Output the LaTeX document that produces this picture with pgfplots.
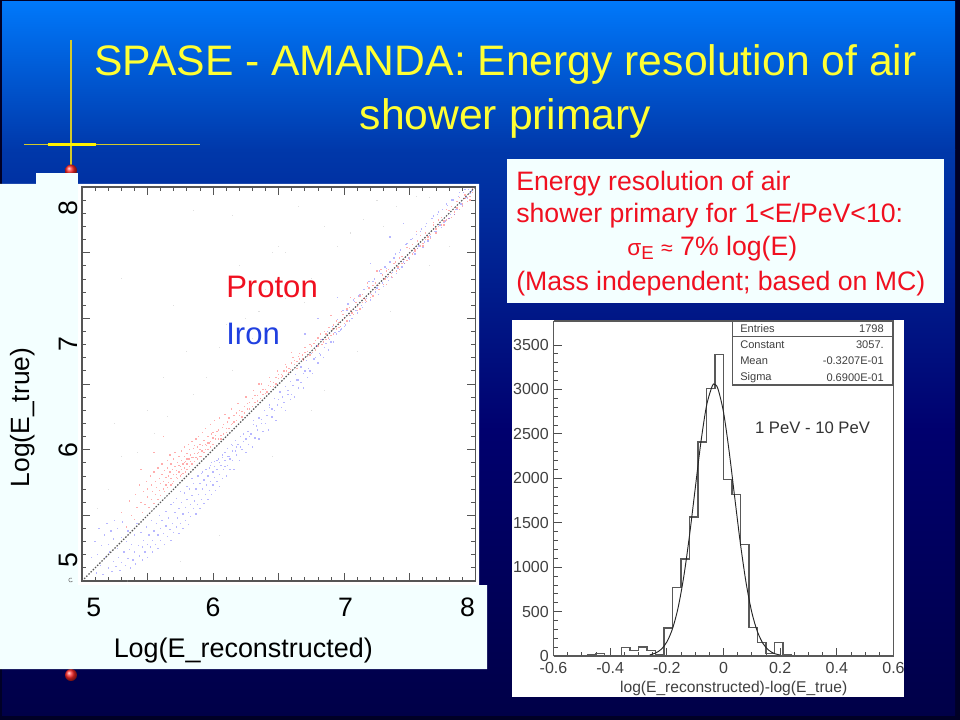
\documentclass[border=0pt]{standalone}
\usepackage{pgfplots}
\pgfplotsset{compat=1.18}
\usepackage{fontspec}
\setmainfont{Liberation Sans}
\definecolor{panel}{HTML}{F3FFFF}
\definecolor{titley}{HTML}{FFFF33}
\definecolor{redtxt}{HTML}{F01020}
\definecolor{bluetxt}{HTML}{2040E0}
\definecolor{axgray}{HTML}{555555}

% histogram, one value per 0.03 bin
\pgfplotstableread{
x y
-0.48 0
-0.48 10
-0.45 10
-0.45 25
-0.42 25
-0.42 0
-0.36 0
-0.36 95
-0.33 95
-0.33 60
-0.30 60
-0.30 100
-0.27 100
-0.27 65
-0.24 65
-0.24 10
-0.21 10
-0.21 315
-0.18 315
-0.18 770
-0.15 770
-0.15 1090
-0.12 1090
-0.12 1565
-0.09 1565
-0.09 2410
-0.06 2410
-0.06 3010
-0.03 3010
-0.03 3390
0.00 3390
0.00 1990
0.03 1990
0.03 1820
0.06 1820
0.06 1255
0.09 1255
0.09 320
0.12 320
0.12 155
0.15 155
0.15 25
0.18 25
0.18 155
0.21 155
0.21 20
0.24 20
0.24 8
0.27 8
0.27 0
}\histdata

% gaussian fit
\pgfplotstableread{
x y
-0.26 13
-0.24 33
-0.22 75
-0.20 158
-0.18 307
-0.16 547
-0.14 898
-0.12 1356
-0.10 1880
-0.08 2400
-0.06 2815
-0.04 3037
-0.032 3057
-0.02 3011
0.00 2745
0.02 2301
0.04 1774
0.06 1257
0.08 819
0.10 490
0.12 272
0.14 138
0.16 64
0.18 27
0.20 11
}\fitdata

\begin{document}
\begin{tikzpicture}[x=0.75pt,y=-0.75pt]
\useasboundingbox (0,0) rectangle (960,720);

% slide background
\fill[black!85!blue] (0,0) rectangle (960,720);
\path[top color={rgb,255:red,0;green,120;blue,250}, bottom color={rgb,255:red,0;green,56;blue,170}]
  (2,2) rectangle (955,150);
\path[top color={rgb,255:red,0;green,56;blue,170}, bottom color={rgb,255:red,0;green,0;blue,110}]
  (2,149.5) rectangle (955,430);
\path[top color={rgb,255:red,0;green,0;blue,110}, bottom color={rgb,255:red,0;green,0;blue,72}]
  (2,429.5) rectangle (955,715);

% title
\node[text=titley, font=\fontsize{32}{34}\selectfont, anchor=center] at (505.5,64) {SPASE - AMANDA: Energy resolution of air};
\node[text=titley, font=\fontsize{32}{34}\selectfont, anchor=center] at (505.5,118) {shower primary};

% yellow cross and red dots
\draw[yellow!80!black, line width=0.8pt] (71,40) -- (71,165);
\draw[yellow!80!black, line width=0.6pt] (24,144.5) -- (200,144.5);
\draw[yellow, line width=2.2pt] (48,144.5) -- (96,144.5);
\shade[ball color=red!85!white] (71,170.5) circle (6);
\shade[ball color=red!85!white] (71,675) circle (6);

% panels behind the plots
\fill[panel] (36,173) rectangle (78,185);
\fill[panel] (0,184) -- (479,184) -- (479,585) -- (487,585) -- (487,669) -- (0,669) -- cycle;
\fill[white] (78,184) rectangle (479,585);
\fill[panel] (507,159) rectangle (944,303);
\fill[white] (512,320) rectangle (904,697);
\draw[black!60, line width=0.4pt] (72.5,581) arc (30:300:2);

\coordinate (scatterorigin) at (82,581);
\coordinate (historigin) at (553.5,656);

% scatter plot
\begin{axis}[
    at={(scatterorigin)}, anchor=south west,
    scale only axis, width=295pt, height=295.5pt,
    xmin=5, xmax=8, ymin=5, ymax=8,
    xtick={5.09,6,7.01,7.94}, xticklabels={5,6,7,8},
    ytick={5.12,5.96,6.76,7.8}, yticklabels={5,6,7,8},
    major tick length=0pt,
    extra x ticks={5,5.5,6,6.5,7,7.5,8},
    extra y ticks={5,5.5,6,6.5,7,7.5,8},
    extra x tick labels={}, extra y tick labels={},
    extra tick style={major tick length=6pt, tick style={axgray, line width=0.7pt}},
    minor xtick={5.1,5.2,5.3,5.4,5.6,5.7,5.8,5.9,6.1,6.2,6.3,6.4,6.6,6.7,6.8,6.9,7.1,7.2,7.3,7.4,7.6,7.7,7.8,7.9},
    minor ytick={5.1,5.2,5.3,5.4,5.6,5.7,5.8,5.9,6.1,6.2,6.3,6.4,6.6,6.7,6.8,6.9,7.1,7.2,7.3,7.4,7.6,7.7,7.8,7.9},
    minor tick length=3pt,
    minor tick style={axgray, line width=0.6pt},
    tick align=inside,
    axis line style={axgray, line width=1pt},
    tick label style={font=\fontsize{20}{21}\selectfont},
    /pgf/number format/assume math mode=true,
    xticklabel style={yshift=-9pt},
    yticklabel style={rotate=90, anchor=south, xshift=4pt},
    xlabel={Log(E\_reconstructed)},
    ylabel={Log(E\_true)},
    xlabel style={font=\fontsize{20.2}{21}\selectfont, at={(axis description cs:0.41,0)}, anchor=north, yshift=-39pt},
    ylabel style={font=\fontsize{19.8}{21}\selectfont, at={(axis description cs:0,0.415)}, anchor=south, yshift=32pt},
    clip=true,
]
\addplot[only marks, mark=square*, mark size=0.5pt, color=red!80!white, mark options={draw opacity=0, fill opacity=0.4}]
coordinates {
(5.30,5.52)(5.34,5.41)(5.36,5.61)(5.38,5.50)(5.40,5.47)(5.41,5.66)(5.42,5.56)(5.44,5.73)(5.45,5.60)(5.46,5.52)
(5.47,5.68)(5.48,5.58)(5.49,5.76)(5.50,5.64)(5.50,5.70)(5.51,5.56)(5.52,5.80)(5.53,5.62)(5.53,5.73)(5.54,5.68)
(5.55,5.59)(5.55,5.83)(5.56,5.66)(5.56,5.76)(5.57,5.71)(5.58,5.62)(5.58,5.86)(5.59,5.69)(5.59,5.78)(5.60,5.74)
(5.60,5.65)(5.61,5.89)(5.61,5.81)(5.62,5.70)(5.62,5.76)(5.63,5.84)(5.63,5.68)(5.64,5.79)(5.64,5.73)(5.65,5.92)
(5.65,5.86)(5.65,5.71)(5.66,5.80)(5.66,5.75)(5.67,5.96)(5.67,5.83)(5.68,5.73)(5.68,5.89)(5.68,5.78)(5.69,5.85)
(5.69,5.74)(5.70,5.93)(5.70,5.81)(5.70,5.76)(5.71,5.87)(5.71,5.98)(5.72,5.79)(5.72,5.84)(5.73,5.90)(5.73,5.78)
(5.74,5.95)(5.74,5.83)(5.75,5.87)(5.75,5.80)(5.76,5.99)(5.76,5.92)(5.76,5.85)(5.77,5.82)(5.77,5.89)(5.78,6.02)
(5.78,5.95)(5.78,5.86)(5.79,5.91)(5.79,5.83)(5.80,5.97)(5.80,5.89)(5.80,5.85)(5.81,6.04)(5.81,5.93)(5.82,5.87)
(5.82,6.00)(5.83,5.91)(5.83,5.96)(5.84,5.89)(5.84,6.06)(5.85,5.94)(5.85,6.01)(5.86,5.91)(5.86,5.97)(5.87,6.08)
(5.87,5.94)(5.88,6.02)(5.88,5.93)(5.89,5.98)(5.89,6.10)(5.90,5.95)(5.90,6.04)(5.91,5.99)(5.91,5.95)(5.92,6.13)
(5.92,6.03)(5.93,5.98)(5.93,6.07)(5.94,6.00)(5.94,6.16)(5.95,6.03)(5.96,6.10)(5.96,6.00)(5.97,6.05)(5.98,6.19)
(5.98,6.06)(5.99,6.12)(6.00,6.04)(6.00,6.09)(6.01,6.22)(6.02,6.08)(6.03,6.14)(6.04,6.08)(6.05,6.24)(6.06,6.11)
(6.07,6.17)(6.08,6.12)(6.09,6.27)(6.10,6.16)(6.11,6.21)(6.12,6.16)(6.14,6.31)(6.15,6.20)(6.16,6.26)(6.18,6.22)
(6.19,6.35)(6.20,6.26)(6.22,6.29)(6.24,6.28)(6.25,6.40)(6.26,6.31)(6.28,6.36)(6.30,6.33)(6.31,6.45)(6.32,6.36)
(6.34,6.41)(6.36,6.39)(6.37,6.50)(6.38,6.42)(6.40,6.46)(6.41,6.44)(6.43,6.55)(6.44,6.48)(6.46,6.51)(6.48,6.50)
(6.49,6.60)(6.50,6.54)(6.52,6.57)(6.53,6.56)(6.55,6.65)(6.56,6.60)(6.58,6.62)(6.59,6.61)(6.61,6.70)(6.62,6.65)
(6.64,6.62)(6.65,6.71)(6.66,6.69)(6.68,6.72)(6.69,6.68)(6.70,6.78)(6.72,6.75)(6.74,6.72)(6.75,6.79)(6.77,6.81)
(6.78,6.76)(6.80,6.85)(6.82,6.84)(6.83,6.80)(6.85,6.90)(6.86,6.88)(6.88,6.85)(6.89,6.93)(6.91,6.92)(6.92,6.88)
(6.94,6.98)(6.96,6.97)(6.97,6.94)(6.99,7.03)(7.00,7.00)(7.02,6.98)(7.04,7.08)(7.05,7.06)(7.07,7.03)(7.09,7.12)
(7.10,7.09)(7.12,7.07)(7.14,7.18)(7.15,7.15)(7.17,7.13)(7.19,7.23)(7.20,7.19)(7.22,7.17)(7.24,7.27)(7.26,7.25)
(7.27,7.22)(7.29,7.33)(7.31,7.30)(7.32,7.26)(7.34,7.37)(7.36,7.34)(7.37,7.31)(7.39,7.43)(7.41,7.39)(7.42,7.37)
(7.44,7.47)(7.46,7.45)(7.48,7.44)(7.50,7.53)(7.52,7.49)(7.54,7.52)(7.56,7.59)(7.58,7.55)(7.60,7.57)(7.62,7.65)
(7.64,7.60)(7.66,7.64)(7.68,7.71)(7.70,7.65)(7.72,7.70)(7.74,7.77)(7.76,7.71)(7.78,7.75)(7.80,7.82)(7.82,7.77)
(7.84,7.81)(7.86,7.89)(7.88,7.83)(7.90,7.87)(7.92,7.94)(7.94,7.89)(7.96,7.93)(7.98,7.96)
(6.60,6.74)(6.90,7.02)(7.25,7.36)(7.55,7.66)(7.05,7.16)(6.35,6.50)(5.55,5.98)(5.62,6.10)(5.45,5.85)
(5.72,5.81)(5.74,5.88)(5.76,5.81)(5.78,5.90)(5.80,5.93)(5.82,5.93)(5.84,5.94)(5.86,6.03)(5.88,5.97)(5.90,6.00)
(5.92,5.99)(5.94,6.04)(5.96,6.05)(5.98,6.02)(6.00,6.13)(6.02,6.11)(6.04,6.15)(6.06,6.08)(6.08,6.19)(6.10,6.13)
(6.12,6.24)(6.14,6.19)(6.16,6.21)(6.18,6.28)(6.20,6.30)(6.22,6.25)(6.24,6.33)(6.26,6.35)(6.28,6.31)(6.30,6.39)
(6.32,6.41)(6.34,6.37)(6.36,6.44)(6.38,6.46)(6.40,6.43)(6.42,6.49)(6.44,6.52)(6.46,6.48)(6.48,6.55)(6.50,6.57)
(6.52,6.55)(6.54,6.60)(6.56,6.63)(6.58,6.59)(6.60,6.66)(6.62,6.68)(6.64,6.67)(6.66,6.73)(6.68,6.69)(6.70,6.74)
(6.72,6.71)(6.74,6.80)(6.76,6.74)(6.78,6.83)(6.80,6.79)(6.82,6.88)(6.84,6.82)(6.86,6.84)(6.88,6.93)(6.90,6.87)
(6.92,6.95)(6.94,6.92)(6.96,6.93)(6.98,7.05)(7.00,6.96)(7.02,7.07)(7.04,7.02)(7.06,7.04)(7.08,7.15)(7.10,7.06)
(7.12,7.17)(7.14,7.12)(7.16,7.14)(7.18,7.27)(7.20,7.16)(7.22,7.25)(7.24,7.22)(7.26,7.22)(7.28,7.37)(7.30,7.26)
(7.32,7.36)(7.34,7.32)(7.36,7.32)(7.38,7.42)(7.40,7.36)(7.42,7.46)(7.44,7.42)(7.46,7.42)(7.48,7.54)(7.50,7.46)
(7.52,7.56)(7.54,7.51)(7.56,7.53)(7.58,7.63)(7.60,7.55)(7.62,7.60)(7.64,7.62)(7.66,7.61)(7.68,7.73)(7.70,7.68)
(7.72,7.75)(7.74,7.71)(7.76,7.74)(7.78,7.83)(7.80,7.76)(7.82,7.85)(7.84,7.79)(7.86,7.84)(7.88,7.92)(7.90,7.85)
(7.92,7.91)(7.94,7.92)(7.96,7.90)(7.98,7.99)
};
\addplot[only marks, mark=square*, mark size=0.5pt, color=blue!80!white, mark options={draw opacity=0, fill opacity=0.35}]
coordinates {
(5.07,5.18)(5.10,5.30)(5.11,5.06)(5.12,5.20)(5.13,5.40)(5.14,5.12)(5.15,5.27)(5.16,5.05)(5.17,5.35)(5.18,5.18)
(5.19,5.44)(5.20,5.10)(5.20,5.28)(5.21,5.22)(5.22,5.38)(5.23,5.07)(5.24,5.15)(5.24,5.32)(5.25,5.46)(5.26,5.11)
(5.27,5.25)(5.27,5.40)(5.28,5.18)(5.29,5.08)(5.30,5.33)(5.30,5.14)(5.31,5.45)(5.32,5.22)(5.33,5.12)(5.34,5.30)
(5.35,5.17)(5.35,5.38)(5.36,5.24)(5.37,5.10)(5.38,5.28)(5.39,5.16)(5.40,5.35)(5.40,5.22)(5.41,5.13)(5.42,5.44)
(5.43,5.27)(5.44,5.19)(5.45,5.37)(5.46,5.26)(5.46,5.16)(5.47,5.31)(5.48,5.22)(5.49,5.41)(5.50,5.28)(5.50,5.18)
(5.51,5.35)(5.52,5.26)(5.53,5.46)(5.54,5.31)(5.54,5.22)(5.55,5.38)(5.56,5.28)(5.57,5.44)(5.58,5.35)(5.58,5.25)
(5.59,5.50)(5.60,5.40)(5.60,5.31)(5.61,5.46)(5.62,5.36)(5.63,5.28)(5.64,5.53)(5.64,5.42)(5.65,5.34)(5.66,5.48)
(5.67,5.39)(5.68,5.31)(5.68,5.58)(5.69,5.44)(5.70,5.37)(5.71,5.52)(5.72,5.41)(5.72,5.63)(5.73,5.48)(5.74,5.36)
(5.74,5.55)(5.75,5.44)(5.76,5.60)(5.77,5.51)(5.77,5.40)(5.78,5.67)(5.79,5.56)(5.79,5.46)(5.80,5.62)(5.81,5.52)
(5.81,5.43)(5.82,5.70)(5.83,5.58)(5.83,5.49)(5.84,5.65)(5.85,5.55)(5.85,5.74)(5.86,5.61)(5.87,5.51)(5.87,5.70)
(5.88,5.58)(5.89,5.66)(5.89,5.80)(5.90,5.55)(5.90,5.74)(5.91,5.62)(5.92,5.70)(5.92,5.83)(5.93,5.59)(5.93,5.77)
(5.94,5.66)(5.95,5.73)(5.95,5.85)(5.96,5.62)(5.96,5.80)(5.97,5.69)(5.98,5.76)(5.98,5.88)(5.99,5.66)(6.00,5.83)
(6.00,5.73)(6.01,5.79)(6.01,5.91)(6.02,5.69)(6.03,5.85)(6.03,5.76)(6.04,5.93)(6.05,5.81)(6.05,5.72)(6.06,5.88)
(6.07,5.96)(6.07,5.78)(6.08,5.85)(6.09,5.98)(6.09,5.92)(6.10,5.80)(6.11,5.88)(6.11,6.01)(6.12,5.95)(6.13,5.85)
(6.14,6.04)(6.15,5.92)(6.15,5.99)(6.16,5.85)(6.17,6.07)(6.18,5.96)(6.18,6.02)(6.20,5.92)(6.21,6.10)(6.22,6.00)
(6.23,6.06)(6.25,5.98)(6.26,6.14)(6.27,6.04)(6.28,6.10)(6.30,6.02)(6.31,6.19)(6.32,6.09)(6.34,6.15)(6.35,6.08)
(6.37,6.23)(6.38,6.14)(6.40,6.20)(6.42,6.15)(6.43,6.32)(6.45,6.25)(6.47,6.30)(6.48,6.22)(6.50,6.38)(6.52,6.32)
(6.54,6.36)(6.55,6.30)(6.57,6.45)(6.59,6.38)(6.60,6.42)(6.62,6.40)(6.64,6.53)(6.65,6.47)(6.67,6.51)(6.69,6.47)
(6.70,6.60)(6.72,6.55)(6.74,6.60)(6.76,6.58)(6.78,6.70)(6.80,6.66)(6.82,6.72)(6.84,6.70)(6.86,6.81)(6.88,6.76)
(6.90,6.82)(6.92,6.82)(6.94,6.88)(6.96,6.90)(6.98,6.92)(7.00,6.94)(7.02,7.06)(7.04,6.98)(7.06,7.00)(7.08,7.13)
(7.10,7.04)(7.12,7.18)(7.14,7.08)(7.16,7.12)(7.18,7.24)(7.20,7.14)(7.22,7.28)(7.24,7.20)(7.26,7.18)(7.28,7.34)
(7.30,7.24)(7.32,7.38)(7.34,7.29)(7.36,7.31)(7.38,7.46)(7.40,7.34)(7.42,7.50)(7.44,7.39)(7.46,7.42)(7.48,7.57)
(7.50,7.45)(7.52,7.61)(7.54,7.49)(7.56,7.53)(7.58,7.66)(7.60,7.54)(7.62,7.70)(7.64,7.59)(7.66,7.62)(7.68,7.78)
(7.70,7.66)(7.72,7.81)(7.74,7.69)(7.76,7.73)(7.78,7.87)(7.80,7.76)(7.82,7.90)(7.84,7.79)(7.86,7.83)(7.88,7.96)
(7.90,7.86)(7.92,7.98)(7.94,7.91)(7.96,7.95)
(7.35,7.62)(7.45,7.72)(7.20,7.42)(6.95,7.16)(6.80,7.00)(6.70,6.88)
(5.70,5.60)(5.75,5.68)(5.80,5.72)(5.84,5.78)(5.88,5.80)(5.91,5.82)(5.94,5.85)(5.97,5.86)(5.99,5.90)(6.01,5.87)
(6.03,5.92)(6.05,5.90)(6.07,5.94)(6.09,5.87)(6.11,5.95)(6.13,5.93)(6.15,6.03)(6.17,5.99)(6.19,6.04)(6.21,6.02)
(6.23,6.12)(6.25,6.08)(6.27,6.14)(6.29,6.12)(6.31,6.22)(6.33,6.18)(6.35,6.24)(6.37,6.20)(6.39,6.30)(6.41,6.26)
(6.43,6.34)(6.45,6.31)(6.47,6.39)(6.49,6.34)(6.51,6.44)(6.53,6.40)(6.55,6.48)(6.57,6.42)(6.59,6.52)(6.61,6.49)
(6.63,6.57)(6.65,6.53)(6.67,6.63)(6.69,6.58)(6.71,6.68)(6.73,6.62)(6.75,6.73)(6.77,6.69)(6.79,6.79)(6.81,6.73)
(6.83,6.84)(6.85,6.78)(6.87,6.90)(6.89,6.84)(6.91,6.94)(6.93,6.89)(6.95,6.99)(6.97,6.91)(6.99,7.06)(7.01,6.95)
(7.03,7.11)(7.05,7.02)(7.07,7.14)(7.09,7.06)(7.11,7.17)(7.13,7.10)(7.15,7.22)(7.17,7.15)(7.19,7.28)(7.21,7.18)
(7.23,7.30)(7.25,7.23)(7.27,7.36)(7.29,7.27)(7.31,7.39)(7.33,7.31)(7.35,7.43)(7.37,7.35)(7.39,7.49)(7.41,7.38)
(7.43,7.52)(7.45,7.43)(7.47,7.56)(7.49,7.46)(7.51,7.60)(7.53,7.50)(7.55,7.64)(7.57,7.55)(7.59,7.68)(7.61,7.58)
(7.63,7.72)(7.65,7.63)(7.67,7.76)(7.69,7.66)(7.71,7.79)(7.73,7.71)(7.75,7.83)(7.77,7.74)(7.79,7.86)(7.81,7.79)
(7.83,7.90)(7.85,7.83)(7.87,7.93)(7.89,7.87)(7.91,7.96)(7.93,7.92)(7.95,7.98)(7.97,7.97)
};
\addplot[only marks, mark=square*, mark size=0.4pt, color=gray!70!white, mark options={draw opacity=0, fill opacity=0.35}]
coordinates {
(5.30,5.95)(5.42,5.98)(5.55,6.12)(5.65,6.25)(5.62,6.55)(5.85,6.42)(5.95,6.55)(6.05,6.78)(5.70,7.10)(5.30,7.30)
(6.10,6.95)(6.25,7.00)(6.35,7.05)(6.55,7.15)(6.20,7.40)(6.45,7.50)(6.50,7.55)(6.55,7.50)(6.75,7.30)(6.95,7.55)
(7.05,7.65)(7.15,7.75)(6.85,7.70)(7.25,7.90)(7.40,7.85)(7.55,7.93)(7.65,7.92)(6.65,7.85)(6.15,7.78)(5.85,7.82)
(6.05,5.35)(6.45,5.95)(6.75,6.30)(6.85,6.45)(7.10,6.75)(7.35,7.05)(7.65,7.40)(7.80,7.55)(5.35,5.00)(5.75,5.15)
(5.20,5.70)(5.12,5.55)(6.30,6.85)(6.15,6.60)(6.70,7.12)(7.30,7.70)(5.50,6.30)(5.25,6.20)(5.80,6.75)(6.40,7.22)
};
\addplot[black!65, line width=0.9pt, dash pattern=on 1.1pt off 1.2pt] coordinates {(5,5)(8,8)};
\end{axis}

\node[text=redtxt, font=\fontsize{23.3}{25}\selectfont, anchor=west, inner sep=0pt] at (226,287) {Proton};
\node[text=bluetxt, font=\fontsize{23.3}{25}\selectfont, anchor=west, inner sep=0pt] at (226,334) {Iron};

% text box
\begin{scope}[every node/.style={text=redtxt, font=\fontsize{20}{22}\selectfont, anchor=base west, inner sep=0pt}]
\node at (516,191) {Energy resolution of air};
\node at (516,223) {shower primary for 1<E/PeV<10:};
\node at (627,256) {{\fontsize{17}{18}\selectfont σ}\raisebox{-3pt}{\fontsize{14}{14}\selectfont E} {\fontsize{16}{18}\selectfont ≈} 7\% log(E)};
\node at (516,291) {(Mass independent; based on MC)};
\end{scope}

% histogram
\begin{axis}[
    at={(historigin)}, anchor=south west,
    scale only axis, width=255pt, height=251.25pt,
    xmin=-0.6, xmax=0.6, ymin=0, ymax=3770,
    xtick={-0.6,-0.4,-0.2,0,0.2,0.4,0.6},
    xticklabels={-0.6,-0.4,-0.2,0,0.2,0.4,0.6},
    ytick={0,500,1000,1500,2000,2500,3000,3500},
    minor x tick num=3, minor y tick num=4,
    tick align=inside, axis x line*=bottom, axis y line*=left,
    major tick length=6pt, minor tick length=3pt,
    every tick/.style={black!70, line width=0.6pt},
    axis line style={black!65, line width=1pt, -},
    tick label style={font=\fontsize{12}{13}\selectfont, text=black!75},
    /pgf/number format/assume math mode=true,
    /pgf/number format/1000 sep={},
    xticklabel style={yshift=-1pt},
    yticklabel style={xshift=0pt},
    xlabel={log(E\_reconstructed)-log(E\_true)},
    xlabel style={font=\fontsize{11.7}{12}\selectfont, text=black!75, at={(axis description cs:0.53,0)}, anchor=north, yshift=-15pt},
    scaled y ticks=false,
]
\addplot[black!65, line width=1pt, no marks] table {\histdata};
\addplot[black!85, line width=0.7pt, no marks, smooth] table {\fitdata};
\end{axis}

% top and right frame lines of the histogram, with the stat box
\draw[black!65, line width=1pt] (553.5,321) -- (893.5,321) -- (893.5,656);
\draw[black!65, line width=1pt, fill=white] (732.5,321) rectangle (893,385);
\draw[black!65, line width=1pt] (732.5,336.5) -- (893,336.5);
\begin{scope}[every node/.style={text=black!75, font=\fontsize{8.3}{9}\selectfont, inner sep=0pt}]
\node[anchor=west] at (740,329) {Entries};
\node[anchor=east] at (884,329) {1798};
\node[anchor=west] at (740,345) {Constant};
\node[anchor=east] at (884,345) {3057.};
\node[anchor=west] at (740,361) {Mean};
\node[anchor=east] at (884,361) {-0.3207E-01};
\node[anchor=west] at (740,378) {Sigma};
\node[anchor=east] at (884,378) {0.6900E-01};
\end{scope}
\node[text=black!80, font=\fontsize{12.5}{13}\selectfont] at (812.5,428) {1 PeV - 10 PeV};
\end{tikzpicture}
\end{document}
